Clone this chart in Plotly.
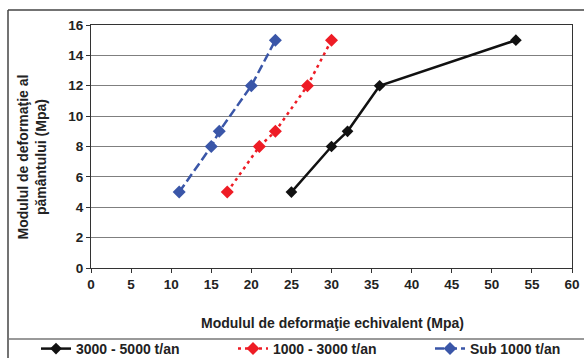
import plotly.graph_objects as go

# Data
black_x = [25, 30, 32, 36, 53]
black_y = [5, 8, 9, 12, 15]
red_x = [17, 21, 23, 27, 30]
red_y = [5, 8, 9, 12, 15]
blue_x = [11, 15, 16, 20, 23]
blue_y = [5, 8, 9, 12, 15]
series_names = ["3000 - 5000 t/an", "1000 - 3000 t/an", "Sub 1000 t/an"]
x_title = "Modulul de deformaţie echivalent (Mpa)"
y_title = "Modulul de deformaţie al<br>pământului (Mpa)"

FONT = "Liberation Sans, Arial, sans-serif"
W, H = 584, 358
L, R, T, B = 91, 12, 25, 90
pw, ph = W - L - R, H - T - B

def px_x(x):
    return (x - L) / pw

def px_y(y):
    return (H - B - y) / ph

bold = lambda s: dict(family=FONT, size=s, color="#222222", weight="bold")

fig = go.Figure()
fig.add_trace(go.Scatter(x=black_x, y=black_y, name=series_names[0], mode="lines+markers",
                         line=dict(color="#111111", width=2.5),
                         marker=dict(symbol="diamond", size=9, color="#111111"),
                         legend="legend"))
fig.add_trace(go.Scatter(x=red_x, y=red_y, name=series_names[1], mode="lines+markers",
                         line=dict(color="#EE1C25", width=2.5, dash="3px,4px"),
                         marker=dict(symbol="diamond", size=10, color="#EE1C25"),
                         legend="legend2"))
fig.add_trace(go.Scatter(x=blue_x, y=blue_y, name=series_names[2], mode="lines+markers",
                         line=dict(color="#3A56A8", width=2.5, dash="9px,4px"),
                         marker=dict(symbol="diamond", size=10, color="#3A56A8"),
                         legend="legend3"))

leg_common = dict(orientation="h", xanchor="left", yanchor="middle", y=px_y(349),
                  font=bold(14), bgcolor="rgba(0,0,0,0)")

fig.update_layout(
    width=W, height=H,
    margin=dict(l=L, r=R, t=T, b=B, autoexpand=False),
    paper_bgcolor="white", plot_bgcolor="white",
    font=dict(family=FONT, size=12, color="#222222"),
    showlegend=True,
    legend=dict(x=px_x(36), **leg_common),
    legend2=dict(x=px_x(233), **leg_common),
    legend3=dict(x=px_x(430), **leg_common),
    xaxis=dict(range=[0, 60], tick0=0, dtick=5, showgrid=False, zeroline=False,
               showline=True, linecolor="#333333", linewidth=1, mirror=True,
               ticks="outside", ticklen=4, tickcolor="#333333",
               tickfont=bold(13.5)),
    yaxis=dict(range=[0, 16], tick0=0, dtick=2, showgrid=True, gridcolor="#7F7F7F", gridwidth=1,
               zeroline=False, showline=True, linecolor="#333333", linewidth=1, mirror=True,
               ticks="outside", ticklen=4, tickcolor="#333333",
               tickfont=bold(13.5)),
    annotations=[
        dict(text=x_title, xref="paper", yref="paper", x=px_x(332), y=px_y(323),
             xanchor="center", yanchor="middle", showarrow=False, font=bold(14)),
        dict(text=y_title, xref="paper", yref="paper", x=px_x(31.5), y=px_y(157),
             xanchor="center", yanchor="middle", showarrow=False, textangle=-90,
             font=bold(14)),
    ],
    shapes=[
        dict(type="line", xref="paper", yref="paper", x0=px_x(8), x1=px_x(600), y0=px_y(10), y1=px_y(10),
             line=dict(color="#444444", width=1.5)),
        dict(type="line", xref="paper", yref="paper", x0=px_x(8), x1=px_x(8), y0=px_y(10), y1=px_y(370),
             line=dict(color="#444444", width=1.5)),
        dict(type="line", xref="paper", yref="paper", x0=px_x(8), x1=px_x(600), y0=px_y(339), y1=px_y(339),
             line=dict(color="#777777", width=1.5)),
    ],
)

fig.write_html("out.html", config={"displayModeBar": False},
               post_script="document.body.style.margin='0';document.body.style.overflow='hidden';")
